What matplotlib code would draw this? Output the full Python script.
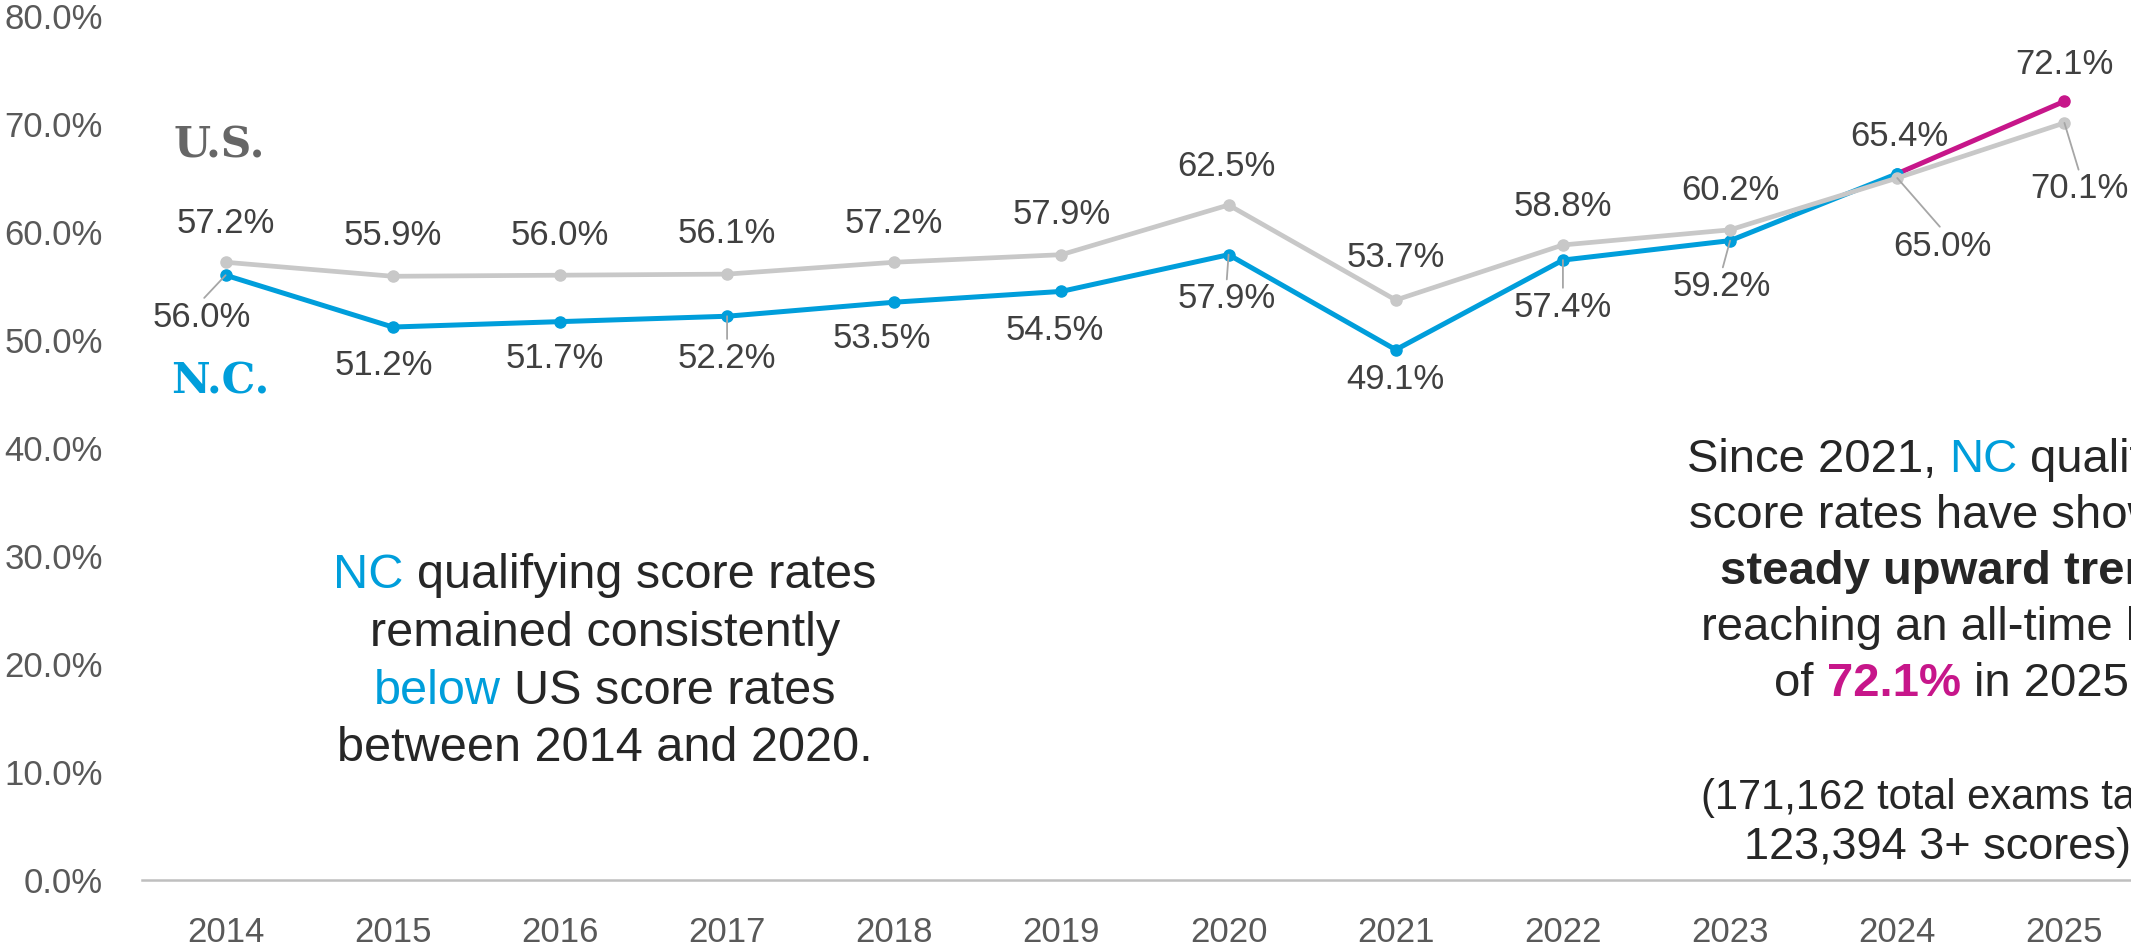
import numpy as np
import matplotlib
matplotlib.use("Agg")
from matplotlib import pyplot as plt

plt.rcParams['font.family'] = ['Liberation Sans', 'DejaVu Sans']

# data
years = ["2014", "2015", "2016", "2017", "2018", "2019", "2020",
         "2021", "2022", "2023", "2024", "2025"]
us_rate = [57.2, 55.9, 56.0, 56.1, 57.2, 57.9, 62.5, 53.7, 58.8, 60.2, 65.0, 70.1]
nc_rate = [56.0, 51.2, 51.7, 52.2, 53.5, 54.5, 57.9, 49.1, 57.4, 59.2, 65.4, 72.1]
y_ticks = [0, 10, 20, 30, 40, 50, 60, 70, 80]

# label offsets in pixels (dx, dy) and whether a leader line is drawn
us_off = [(0, 39), (0, 41), (0, 40), (0, 41), (0, 39), (0, 40), (-2, 39),
          (0, 43), (0, 38), (0, 39), (45, -68), (15, -66)]
us_lead = [False] * 10 + [True, True]
nc_off = [(-24, -42), (-9, -38), (-5, -37), (0, -42), (-12, -36), (-7, -39),
          (-2, -44), (0, -30), (0, -47), (-8, -46), (2, 37), (0, 37)]
nc_lead = [True, False, False, True, False, False, True, False, True, True, False, False]

BLUE = "#009EDB"
GREY = "#C8C8C8"
MAG = "#C7168A"
DARK = "#262626"
LBL = "#404040"

W, H = 2131, 947
fig = plt.figure(figsize=(W / 100, H / 100), dpi=100)
ax = fig.add_axes([142 / W, (H - 880) / H, (2148 - 142) / W, (880 - 16) / H])

x = np.arange(len(years))
n = len(years)

# NC line: blue up to 2024, magenta last segment
ax.plot(x[:n - 1], nc_rate[:n - 1], color=BLUE, lw=3.6, marker="o", ms=8,
        zorder=2, solid_capstyle="round")
ax.plot(x[n - 2:], nc_rate[n - 2:], color=MAG, lw=3.6, zorder=2)
ax.plot(x[n - 1:], nc_rate[n - 1:], color=MAG, marker="o", ms=8, lw=0, zorder=2)
ax.plot(x[n - 2:n - 1], nc_rate[n - 2:n - 1], color=BLUE, marker="o", ms=8, lw=0, zorder=2)
# US line on top
ax.plot(x, us_rate, color=GREY, lw=3.4, marker="o", ms=8, zorder=3)


def put_label(xi, v, off, lead):
    ap = None
    if lead:
        rel = (0.5, 1) if off[1] < 0 else (0.5, 0)
        ap = dict(arrowstyle="-", color="#A6A6A6", lw=1.3, shrinkA=0, shrinkB=0,
                  relpos=rel)
    ax.annotate(f"{v:.1f}%", (xi, v), xytext=off, textcoords="offset pixels",
                ha="center", va="center", fontsize=25, color=LBL,
                arrowprops=ap, zorder=5, annotation_clip=False)


for i in range(n):
    put_label(x[i], us_rate[i], us_off[i], us_lead[i])
    put_label(x[i], nc_rate[i], nc_off[i], nc_lead[i])

ax.set_xlim(-0.5, n - 0.5)
ax.set_ylim(0, 80)
ax.set_xticks(x)
ax.set_xticklabels(years)
ax.set_yticks(y_ticks)
ax.set_yticklabels([f"{t:.1f}%" for t in y_ticks])
ax.tick_params(axis="both", length=0, labelsize=25, labelcolor="#595959")
ax.tick_params(axis="x", pad=26)
ax.tick_params(axis="y", pad=28)
for s in ["top", "right", "left"]:
    ax.spines[s].set_visible(False)
ax.spines["bottom"].set_color("#BFBFBF")
ax.spines["bottom"].set_linewidth(1.8)

# series names
fig.text(219 / W, 1 - 145 / H, "U.S.", family=["DejaVu Serif"], weight="bold",
         fontsize=30.5, color="#666666", ha="center", va="center")
fig.text(220 / W, 1 - 381 / H, "N.C.", family=["DejaVu Serif"], weight="bold",
         fontsize=30.5, color=BLUE, ha="center", va="center")

renderer = fig.canvas.get_renderer()


def text_w(s, size, weight="normal"):
    t = fig.text(0, 0, s, fontsize=size, weight=weight)
    w = t.get_window_extent(renderer).width
    t.remove()
    return w


def rich_line(segs, cx, cy, size):
    sp = text_w("x x", size) - text_w("xx", size)
    widths = [text_w(s, size, wt) for s, c, wt in segs]
    total = sum(widths) + sp * (len(segs) - 1)
    xp = cx - total / 2
    for (s, c, wt), w in zip(segs, widths):
        fig.text(xp / W, 1 - cy / H, s, fontsize=size, weight=wt, color=c,
                 ha="left", va="center_baseline")
        xp += w + sp


left_lines = [
    [("NC", BLUE, "normal"), ("qualifying score rates", DARK, "normal")],
    [("remained consistently", DARK, "normal")],
    [("below", BLUE, "normal"), ("US score rates", DARK, "normal")],
    [("between 2014 and 2020.", DARK, "normal")],
]
for k, segs in enumerate(left_lines):
    rich_line(segs, 605, 571 + 57.5 * k, 35)

right_lines = [
    [("Since 2021,", DARK, "normal"), ("NC", BLUE, "normal"), ("qualifying", DARK, "normal")],
    [("score rates have shown a", DARK, "normal")],
    [("steady upward trend,", DARK, "bold")],
    [("reaching an all-time high", DARK, "normal")],
    [("of", DARK, "normal"), ("72.1%", MAG, "bold"), ("in 2025.", DARK, "normal")],
]
for k, segs in enumerate(right_lines):
    rich_line(segs, 1958, 455 + 56 * k, 34)

rich_line([("(171,162 total exams taken,", DARK, "normal")], 1958, 794, 30)
rich_line([("123,394 3+ scores)", DARK, "normal")], 1938, 843, 32.5)

fig.savefig("out.png", dpi=100)
